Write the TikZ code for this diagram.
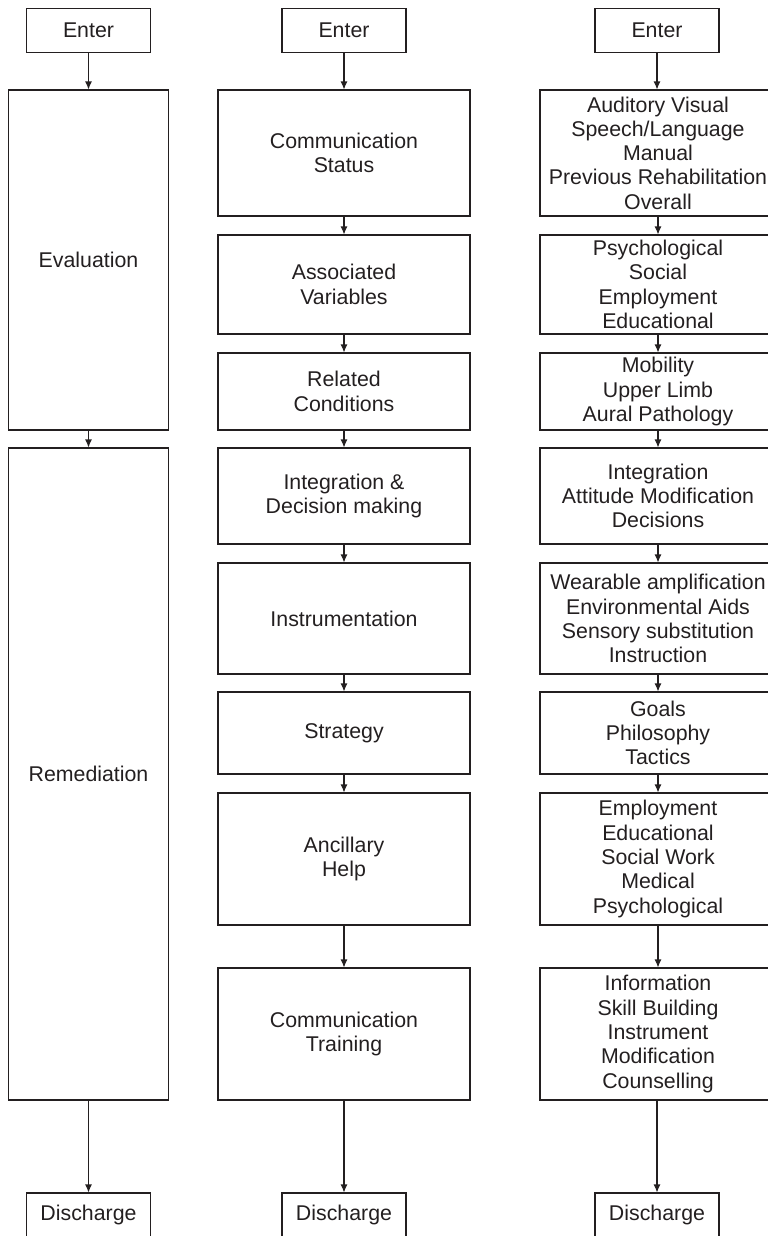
\documentclass[tikz,border=0pt]{standalone}
\usepackage{fontspec}
\setmainfont{Liberation Sans}
\usetikzlibrary{arrows.meta}
\newlength\px
\setlength\px{0.75pt}
\definecolor{ink}{HTML}{231F20}
\begin{document}
\begin{tikzpicture}[x=1\px, y=-1\px,
  box/.style={draw=ink, line width=0.8pt, text=ink, inner sep=0pt, align=center,
              font=\fontsize{16}{18.2}\selectfont},
  endbox/.style={box, minimum width=124\px, minimum height=44\px},
  phase/.style={box, minimum width=160.4\px},
  midbox/.style={box, minimum width=252\px},
  listbox/.style={box, minimum width=236\px},
  flow/.style={draw=ink, line width=0.8pt, -{Latex[length=6pt,width=5.25pt]}}]
\useasboundingbox (0,0) rectangle (768,1236);
\clip (0,0) rectangle (768,1236);

% --- phases ---
\node[endbox] (e1) at (88.5,30.5) {Enter};
\node[phase, minimum height=340\px] (ev) at (88.5,260) {Evaluation};
\node[phase, minimum height=652\px] (rem) at (88.5,774) {Remediation};
\node[endbox] (d1) at (88.5,1215) {Discharge};
\draw[flow] (e1) -- (ev);
\draw[flow] (ev) -- (rem);
\draw[flow] (rem) -- (d1);

% --- stages ---
\node[endbox] (e2) at (344,30.5) {Enter};
\node[midbox, minimum height=126\px] (m1) at (344,153) {Communication\\Status};
\node[midbox, minimum height=99\px] (m2) at (344,284.5) {Associated\\Variables};
\node[midbox, minimum height=77\px] (m3) at (344,391.5) {Related\\Conditions};
\node[midbox, minimum height=96\px] (m4) at (344,496) {Integration \&\\Decision making};
\node[midbox, minimum height=111\px] (m5) at (344,618.5) {Instrumentation};
\node[midbox, minimum height=82\px] (m6) at (344,733) {Strategy};
\node[midbox, minimum height=132\px] (m7) at (344,859) {Ancillary\\Help};
\node[midbox, minimum height=132\px] (m8) at (344,1034) {Communication\\Training};
\node[endbox] (d2) at (344,1215) {Discharge};
\draw[flow] (e2) -- (m1);
\draw[flow] (m1) -- (m2);
\draw[flow] (m2) -- (m3);
\draw[flow] (m3) -- (m4);
\draw[flow] (m4) -- (m5);
\draw[flow] (m5) -- (m6);
\draw[flow] (m6) -- (m7);
\draw[flow] (m7) -- (m8);
\draw[flow] (m8) -- (d2);

% --- stage contents ---
\node[endbox] (e3) at (657,30.5) {Enter};
\node[listbox, minimum height=126\px] (l1) at (658,153) {Auditory Visual\\Speech/Language\\Manual\\Previous Rehabilitation\\Overall};
\node[listbox, minimum height=99\px] (l2) at (658,284.5) {Psychological\\Social\\Employment\\Educational};
\node[listbox, minimum height=77\px] (l3) at (658,391.5) {Mobility\\Upper Limb\\Aural Pathology};
\node[listbox, minimum height=96\px] (l4) at (658,496) {Integration\\Attitude Modification\\Decisions};
\node[listbox, minimum height=111\px] (l5) at (658,618.5) {Wearable amplification\\Environmental Aids\\Sensory substitution\\Instruction};
\node[listbox, minimum height=82\px] (l6) at (658,733) {Goals\\Philosophy\\Tactics};
\node[listbox, minimum height=132\px] (l7) at (658,859) {Employment\\Educational\\Social Work\\Medical\\Psychological};
\node[listbox, minimum height=132\px] (l8) at (658,1034) {Information\\Skill Building\\Instrument\\Modification\\Counselling};
\node[endbox] (d3) at (657,1215) {Discharge};
\draw[flow] (e3) -- (e3 |- l1.north);
\draw[flow] (l1) -- (l2);
\draw[flow] (l2) -- (l3);
\draw[flow] (l3) -- (l4);
\draw[flow] (l4) -- (l5);
\draw[flow] (l5) -- (l6);
\draw[flow] (l6) -- (l7);
\draw[flow] (l7) -- (l8);
\draw[flow] (l8.south -| d3) -- (d3);
\end{tikzpicture}
\end{document}
